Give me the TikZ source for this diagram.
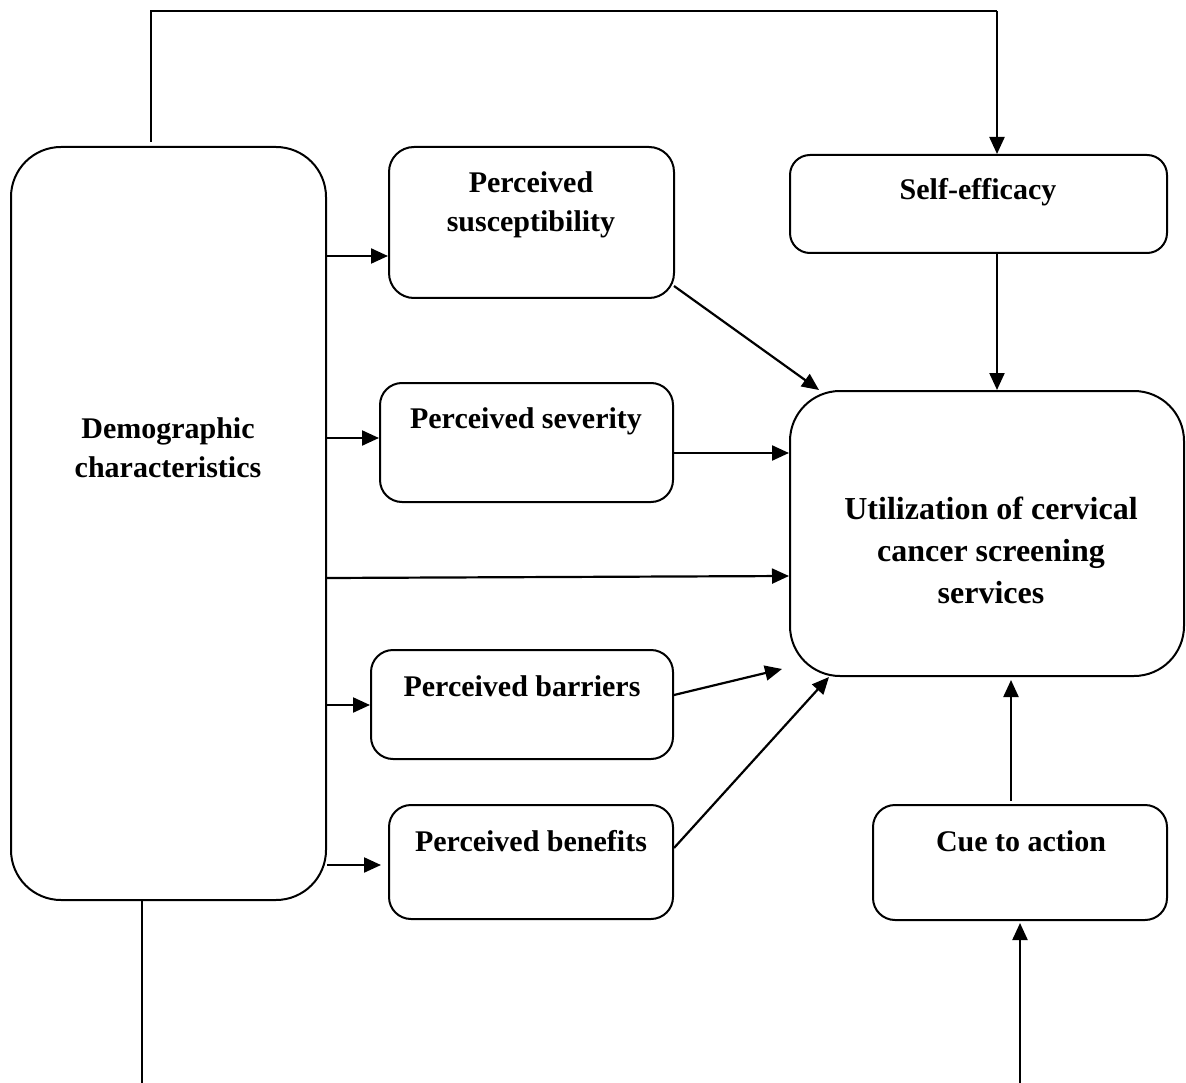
\documentclass[tikz,border=0pt]{standalone}
\usepackage{fontspec}
\setmainfont{Liberation Serif}
\usetikzlibrary{arrows.meta,calc}
\tikzset{
  box/.style={draw, line width=2pt, rounded corners=#1, inner sep=0pt},
  box/.default=25pt,
  lbl/.style={align=center, font=\fontsize{30}{39}\selectfont\bfseries, inner sep=0pt},
  biglbl/.style={align=center, font=\fontsize{32}{42}\selectfont\bfseries, inner sep=0pt},
  arr/.style={line width=2.2pt, -{Triangle[length=17pt,width=15pt]}},
  ln/.style={line width=2.2pt},
}
\begin{document}
\begin{tikzpicture}[x=1pt,y=-1pt]
\useasboundingbox (0,0) rectangle (1186,1083);
% boxes
\node[box=50pt, minimum width=315pt, minimum height=753pt] (demo) at (168.5,523.5) {};
\node[box=25pt, minimum width=285pt, minimum height=151pt] (susc) at (531.5,222.5) {};
\node[box=20pt, minimum width=377pt, minimum height=98pt] (self) at (978.5,204) {};
\node[box=22pt, minimum width=293pt, minimum height=119pt] (sev) at (526.5,442.5) {};
\node[box=50pt, minimum width=394pt, minimum height=285pt] (util) at (987,533.5) {};
\node[box=22pt, minimum width=302pt, minimum height=109pt] (bar) at (522,704.5) {};
\node[box=22pt, minimum width=284pt, minimum height=114pt] (ben) at (531,862) {};
\node[box=22pt, minimum width=294pt, minimum height=115pt] (cue) at (1020,862.5) {};
% texts
\node[lbl] (tdemo) at (168,448) {Demographic\\characteristics};
\node[lbl] (tsusc) at (531,205) {Perceived\\susceptibility};
\node[lbl] (tself) at (978,192) {Self-efficacy};
\node[lbl] (tsev) at (526,421) {Perceived severity};
\node[biglbl] (tutil) at (991,550) {Utilization of cervical\\cancer screening\\services};
\node[lbl] (tbar) at (522,686) {Perceived barriers};
\node[lbl] (tben) at (531,841) {Perceived benefits};
\node[lbl] (tcue) at (1021,841) {Cue to action};
% coordinates for free ends
\coordinate (topL) at (151,11);
\coordinate (topR) at (997,11);
\coordinate (botL) at (142,1083);
\coordinate (botR) at (1020,1083);
% connectors
\draw[ln] ($(demo.north -| topL)+(0,-4)$) -- (topL) -- (topR);
\draw[arr] (topR) -- (self.north -| topR);
\draw[arr] (self.south -| topR) -- (util.north -| topR);
\draw[arr] (demo.east |- 0,256) -- (susc.west |- 0,256);
\draw[arr] (demo.east |- 0,438) -- (sev.west |- 0,438);
\draw[arr] (demo.east |- 0,578) -- ($(util.west |- 0,576)$);
\draw[arr] (demo.east |- 0,705) -- (bar.west |- 0,705);
\draw[arr] (demo.east |- 0,865) -- ($(ben.west |- 0,865)+(-7,0)$);
\draw[arr] (674,286) -- ($(util.north west)+(30,0)$);
\draw[arr] (sev.east |- 0,453) -- (util.west |- 0,453);
\draw[arr] (674,695) -- ($(util.south west)+(-7,-8)$);
\draw[arr] (674,848) -- ($(util.south west)+(40,0)$);
\draw[arr] ($(cue.north -| 0,0)+(1011,-3)$) -- ($(util.south -| 0,0)+(1011,3)$);
\draw[ln] (demo.south -| botL) -- (botL);
\draw[arr] (botR) -- ($(cue.south -| botR)+(0,2)$);
\end{tikzpicture}
\end{document}
